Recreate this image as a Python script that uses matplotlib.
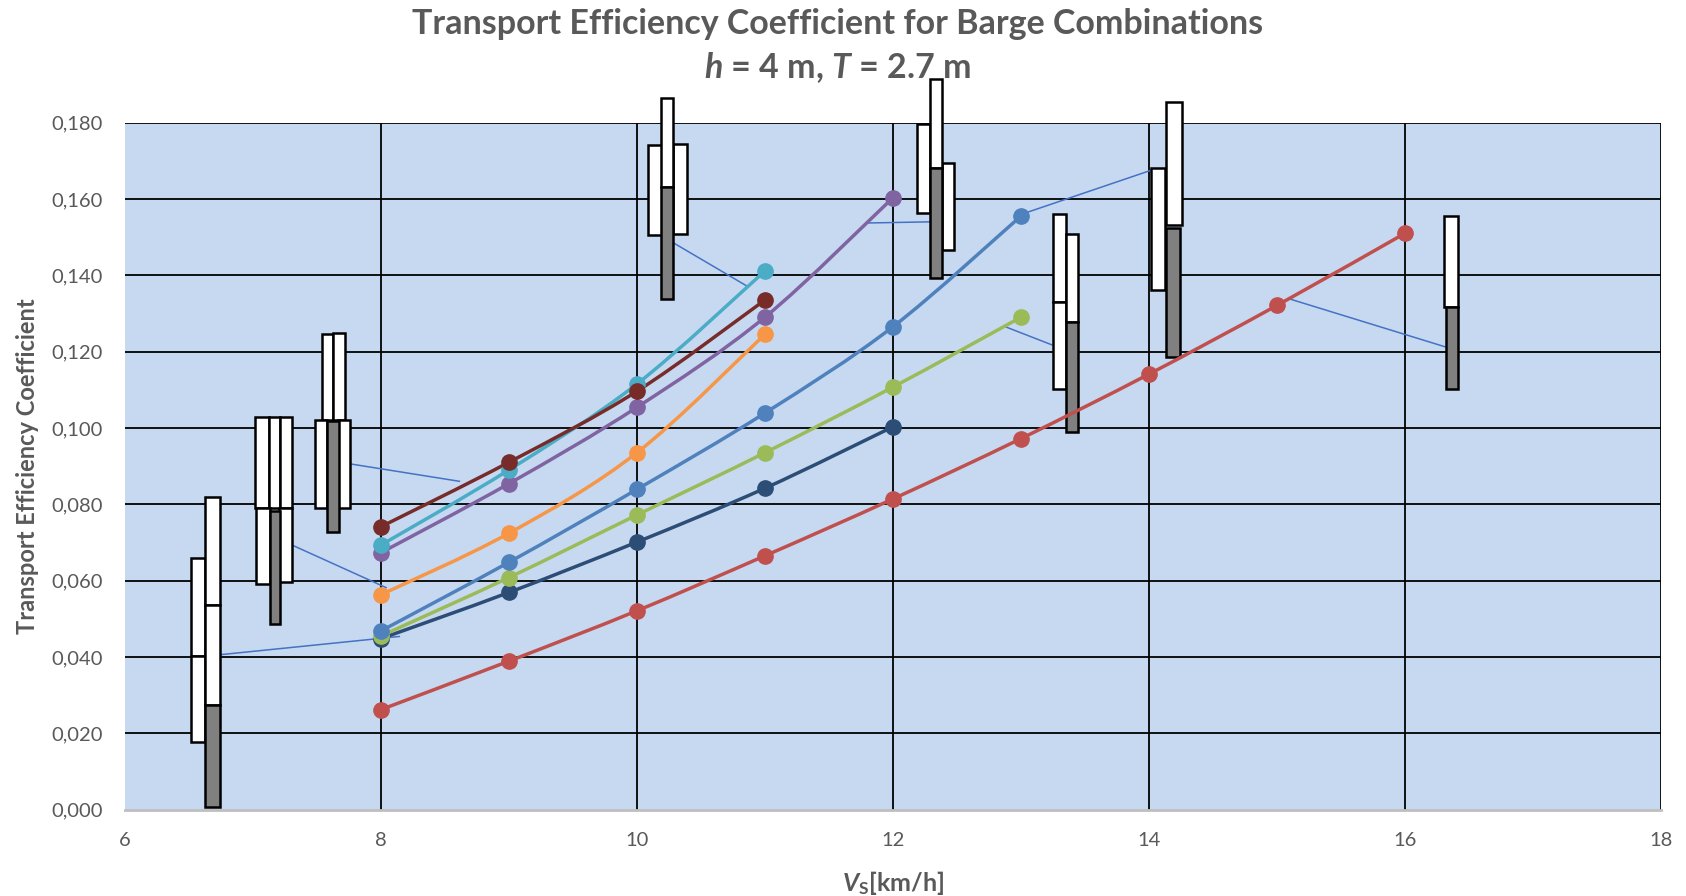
import numpy as np
import matplotlib
matplotlib.use("Agg")
import matplotlib.pyplot as plt
from matplotlib.path import Path
from matplotlib.patches import PathPatch, Rectangle

plt.rcParams['font.family'] = ['Lato', 'DejaVu Sans']
plt.rcParams['mathtext.fontset'] = 'custom'
plt.rcParams['mathtext.rm'] = 'Lato:bold'
plt.rcParams['mathtext.it'] = 'Lato:bold:italic'
plt.rcParams['mathtext.bf'] = 'Lato:bold'

TXT = '#595959'

# speed [km/h] and transport efficiency coefficient per barge combination
vs_red = [8, 9, 10, 11, 12, 13, 14, 15, 16]
te_red = [0.0262, 0.0389, 0.0521, 0.0665, 0.0814, 0.0972, 0.1141, 0.1321, 0.1510]
vs_navy = [8, 9, 10, 11, 12]
te_navy = [0.0448, 0.0569, 0.0701, 0.0842, 0.1003]
vs_green = [8, 9, 10, 11, 12, 13]
te_green = [0.0455, 0.0608, 0.0772, 0.0935, 0.1107, 0.1290]
vs_blue = [8, 9, 10, 11, 12, 13]
te_blue = [0.0468, 0.0648, 0.0839, 0.1039, 0.1265, 0.1555]
vs_orange = [8, 9, 10, 11]
te_orange = [0.0563, 0.0724, 0.0935, 0.1245]
vs_purple = [8, 9, 10, 11, 12]
te_purple = [0.0673, 0.0854, 0.1054, 0.1290, 0.1603]
vs_cyan = [8, 9, 10, 11]
te_cyan = [0.0693, 0.0890, 0.1115, 0.1411]
vs_maroon = [8, 9, 10, 11]
te_maroon = [0.0741, 0.0910, 0.1096, 0.1335]

series = [
    (vs_red, te_red, '#C0504D'),
    (vs_navy, te_navy, '#2C4D75'),
    (vs_green, te_green, '#9BBB59'),
    (vs_blue, te_blue, '#4F81BD'),
    (vs_orange, te_orange, '#F79646'),
    (vs_purple, te_purple, '#8064A2'),
    (vs_cyan, te_cyan, '#4BACC6'),
    (vs_maroon, te_maroon, '#772C2A'),
]

# barge pictograms: (x0, x1, y0, y1, loaded)
barges_a = [(6.52, 6.627, 0.0403, 0.0659, 0), (6.52, 6.627, 0.0178, 0.0403, 0),
            (6.63, 6.745, 0.0535, 0.0819, 0), (6.63, 6.745, 0.0273, 0.0535, 0),
            (6.63, 6.745, 0.0006, 0.0273, 1)]
barges_b = [(7.02, 7.13, 0.079, 0.103, 0), (7.13, 7.213, 0.079, 0.103, 0),
            (7.213, 7.309, 0.079, 0.103, 0), (7.026, 7.135, 0.0592, 0.079, 0),
            (7.203, 7.309, 0.0596, 0.079, 0), (7.135, 7.213, 0.0487, 0.0783, 1)]
barges_c = [(7.539, 7.63, 0.1022, 0.1245, 0), (7.63, 7.719, 0.1022, 0.1248, 0),
            (7.487, 7.583, 0.079, 0.1022, 0), (7.669, 7.76, 0.079, 0.1022, 0),
            (7.583, 7.674, 0.0728, 0.1018, 1)]
barges_d = [(10.091, 10.2, 0.1506, 0.1741, 0), (10.281, 10.391, 0.1509, 0.1743, 0),
            (10.187, 10.286, 0.1632, 0.1864, 0), (10.187, 10.286, 0.1337, 0.1632, 1)]
barges_e = [(12.192, 12.291, 0.1562, 0.1797, 0), (12.385, 12.479, 0.1466, 0.1693, 0),
            (12.291, 12.385, 0.1682, 0.1914, 0), (12.291, 12.385, 0.1392, 0.1682, 1)]
barges_f = [(14.016, 14.122, 0.1361, 0.168, 0), (14.135, 14.255, 0.1533, 0.1854, 0),
            (14.135, 14.245, 0.1185, 0.1523, 1)]
barges_g = [(13.248, 13.352, 0.133, 0.1561, 0), (13.248, 13.352, 0.1103, 0.133, 0),
            (13.352, 13.45, 0.1277, 0.1509, 0), (13.352, 13.45, 0.0989, 0.1277, 1)]
barges_h = [(16.302, 16.414, 0.1318, 0.1555, 0), (16.32, 16.414, 0.1103, 0.1318, 1)]

# callout lines from pictograms to curves: (x_from, y_from, x_to, y_to)
callouts = [
    (6.745, 0.0406, 8.151, 0.0454),
    (7.309, 0.0693, 8.047, 0.0581),
    (7.760, 0.0906, 8.62, 0.0860),
    (10.286, 0.1485, 10.859, 0.1372),
    (11.80, 0.1537, 12.291, 0.1540),
    (13.05, 0.1565, 14.06, 0.1680),
    (12.88, 0.1265, 13.248, 0.1217),
    (15.09, 0.1339, 16.32, 0.1212),
]


def smooth_path(x, y):
    # Bezier segments through the points, the way spreadsheet "smoothed lines" are drawn
    p = np.column_stack([x, y]).astype(float)
    n = len(p)
    verts = [p[0]]
    codes = [Path.MOVETO]
    for i in range(n - 1):
        p0 = p[i - 1] if i > 0 else p[i]
        p3 = p[i + 2] if i + 2 < n else p[i + 1]
        c1 = p[i] + (p[i + 1] - p0) / 6.0
        c2 = p[i + 1] - (p3 - p[i]) / 6.0
        verts += [c1, c2, p[i + 1]]
        codes += [Path.CURVE4] * 3
    return Path(verts, codes)


fig = plt.figure(figsize=(16.86, 8.96), dpi=100)
ax = fig.add_axes([0.07396, 0.09632, 0.91121, 0.76685])
ax.set_facecolor('#C6D9F1')
ax.set_xlim(6, 18)
ax.set_ylim(0, 0.18)
ax.set_xticks(np.arange(6, 19, 2))
ax.set_yticks(np.arange(0, 0.181, 0.02))
ax.set_yticklabels([f"{v:.3f}".replace('.', ',') for v in np.arange(0, 0.181, 0.02)])
ax.tick_params(length=0, labelsize=14.5, labelcolor=TXT)
ax.tick_params(axis='y', pad=16)
ax.tick_params(axis='x', pad=16)
for s in ['left', 'right', 'top']:
    ax.spines[s].set_visible(False)
ax.spines['bottom'].set_color('#BFBFBF')
ax.spines['bottom'].set_linewidth(2)
ax.spines['bottom'].set_zorder(1)

for gx in range(8, 19, 2):
    ax.axvline(gx, color='black', lw=1.3, zorder=0.5)
for gy in np.arange(0.02, 0.181, 0.02):
    ax.axhline(gy, color='black', lw=1.3, zorder=0.5)

for x0, y0, x1, y1 in callouts:
    ax.plot([x0, x1], [y0, y1], color='#4472C4', lw=1.1, zorder=1, solid_capstyle='butt')

for group in [barges_a, barges_b, barges_c, barges_d, barges_e, barges_f, barges_g, barges_h]:
    for x0, x1, y0, y1, loaded in group:
        ax.add_patch(Rectangle((x0, y0), x1 - x0, y1 - y0,
                               facecolor='#808080' if loaded else 'white',
                               edgecolor='black', lw=1.8, zorder=2, clip_on=False))

for vs, te, col in series:
    ax.add_patch(PathPatch(smooth_path(vs, te), facecolor='none', edgecolor=col,
                           lw=2.5, zorder=3, capstyle='round'))
    ax.plot(vs, te, 'o', color=col, ms=11, zorder=4)

ax.set_ylabel('Transport Efficiency Coefficient', fontsize=17, fontweight='bold', color=TXT)
ax.yaxis.set_label_coords(-0.056, 0.5)
ax.set_xlabel(r'$V_\mathrm{S}$[km/h]', fontsize=18, fontweight='bold', color=TXT)
ax.xaxis.set_label_coords(0.5, -0.086)

fig.text(0.497, 0.973, 'Transport Efficiency Coefficient for Barge Combinations',
         ha='center', va='center', fontsize=24.5, fontweight='bold', color=TXT)
fig.text(0.497, 0.925, r'$h$ = 4 m, $T$ = 2.7 m',
         ha='center', va='center', fontsize=24.5, fontweight='bold', color=TXT)

fig.savefig('out.png', dpi=100)
